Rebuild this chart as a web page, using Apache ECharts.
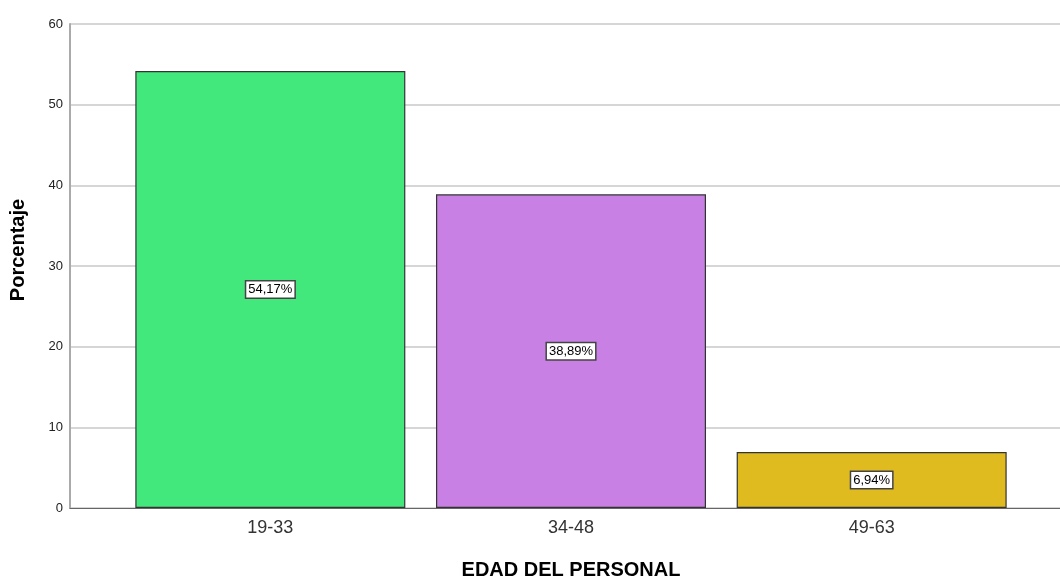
<!DOCTYPE html>
<html>
<head>
<meta charset="utf-8">
<script src="https://cdn.jsdelivr.net/npm/echarts@6/dist/echarts.min.js"></script>
<style>
  html, body { margin: 0; padding: 0; background: #fff; }
  #chart { width: 1060px; height: 580px; }
</style>
</head>
<body>
<div id="chart"></div>
<script>
// age groups and share of staff (%)
var categories = ['19-33', '34-48', '49-63'];
var porcentaje = [54.17, 38.89, 6.94];
var barColors = ['#43E87D', '#C980E5', '#E0BB1F'];

var chart = echarts.init(document.getElementById('chart'));
var font = 'Liberation Sans, Arial, sans-serif';

var options = {
    animation: false,
    grid: [
        { left: 70, right: 0, top: 24, bottom: 72, outerBoundsMode: 'none' },   // gridlines + axis frame
        { left: 120, right: 38, top: 24, bottom: 72, outerBoundsMode: 'none' }  // bars
    ],
    xAxis: [{
        gridIndex: 0,
        type: 'value',
        min: 0,
        max: 1,
        axisLine: { show: true, lineStyle: { color: '#666', width: 1 } },
        axisTick: { show: false },
        axisLabel: { show: false },
        splitLine: { show: false }
    }, {
        gridIndex: 1,
        type: 'category',
        data: categories,
        axisLine: { show: false },
        axisTick: { show: false },
        axisLabel: { fontFamily: font, fontSize: 18, color: '#333', margin: 11 },
        name: 'EDAD DEL PERSONAL',
        nameLocation: 'middle',
        nameGap: 52,
        nameTextStyle: { fontFamily: font, fontSize: 20, fontWeight: 'bold', color: '#000' }
    }],
    yAxis: [{
        gridIndex: 0,
        type: 'value',
        min: 0,
        max: 60,
        interval: 10,
        axisLine: { show: true, lineStyle: { color: '#aaa', width: 2 } },
        axisTick: { show: false },
        axisLabel: { fontFamily: font, fontSize: 13, color: '#222', margin: 7 },
        splitLine: { show: true, lineStyle: { color: '#c8c8c8', width: 1.5 } },
        name: 'Porcentaje',
        nameLocation: 'middle',
        nameGap: 42,
        nameTextStyle: { fontFamily: font, fontSize: 20, fontWeight: 'bold', color: '#000', padding: [0, 0, 0, 32] }
    }, {
        gridIndex: 1,
        type: 'value',
        min: 0,
        max: 60,
        show: false
    }],
    series: [{
        type: 'bar',
        xAxisIndex: 1,
        yAxisIndex: 1,
        barWidth: 270,
        data: porcentaje.map(function (v, i) {
            return { value: v, itemStyle: { color: barColors[i] } };
        }),
        itemStyle: { borderColor: '#333', borderWidth: 1.2 },
        label: {
            show: true,
            position: 'inside',
            formatter: function (p) { return p.value.toFixed(2).replace('.', ',') + '%'; },
            fontFamily: font,
            fontSize: 13,
            color: '#000',
            backgroundColor: '#fff',
            borderColor: '#444',
            borderWidth: 1.5,
            padding: [2, 2, 1, 2]
        }
    }]
};
chart.setOption(options);
</script>
</body>
</html>
